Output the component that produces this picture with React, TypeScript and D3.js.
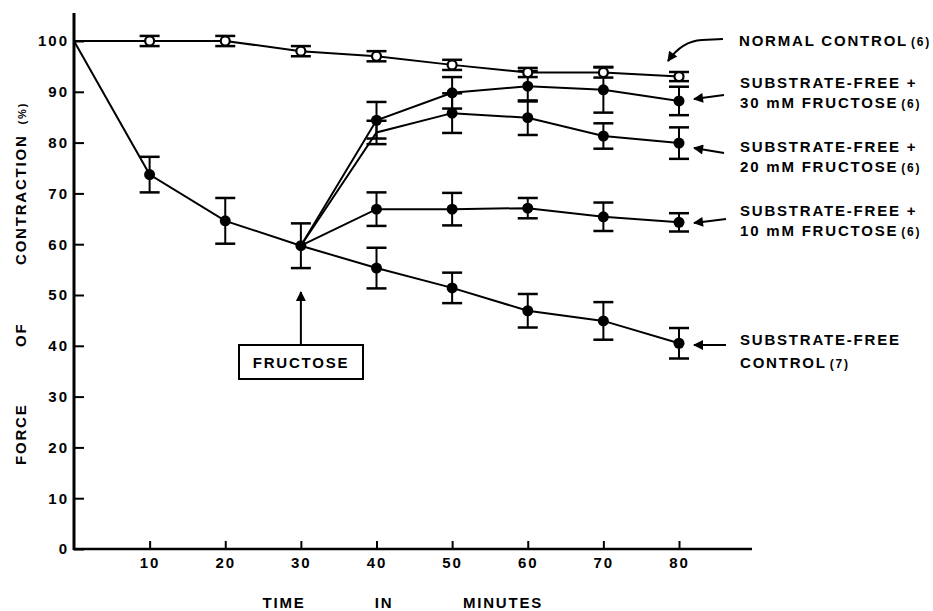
import { useEffect, useRef } from "react";
import * as d3 from "d3";

// time points (minutes)
const times = [0, 10, 20, 30, 40, 50, 60, 70, 80];
const fructoseTimes = [30, 40, 50, 60, 70, 80];

// series values (% of initial force)
const normal = [100, 100, 100, 98, 97, 95.3, 93.8, 93.8, 93];
const normalErr = [0, 1, 1, 1, 1, 1, 0.9, 1, 0.9];
const control = [100, 73.7, 64.6, 59.7, 55.3, 51.4, 46.9, 44.9, 40.5];
const controlErr = [0, 3.5, 4.5, 4.4, 4, 3, 3.3, 3.7, 3];
const fr10 = [59.7, 66.9, 66.9, 67.1, 65.4, 64.3];
const fr10Err = [0, 3.3, 3.2, 2, 2.8, 1.8];
const fr20 = [59.7, 82, 85.8, 84.9, 81.3, 79.9];
const fr20Err = [0, 2.3, 3.9, 3.4, 2.5, 3.1];
const fr30 = [59.7, 84.4, 89.8, 91.1, 90.4, 88.2];
const fr30Err = [0, 3.6, 3.1, 3, 4.5, 2.8];

const yTicks = [0, 10, 20, 30, 40, 50, 60, 70, 80, 90, 100];
const xTicks = [10, 20, 30, 40, 50, 60, 70, 80];

const W = 933;
const H = 611;
const FONT = "'Liberation Sans', Arial, sans-serif";

const x = d3.scaleLinear().domain([0, 80]).range([74, 679]);
const y = d3.scaleLinear().domain([0, 100]).range([549, 41]);

interface Series {
  t: number[];
  v: number[];
  e: number[];
  open?: boolean;
  hideMarkerAt?: number[];
}

const series: Series[] = [
  { t: times, v: control, e: controlErr },
  { t: fructoseTimes, v: fr10, e: fr10Err },
  { t: fructoseTimes, v: fr20, e: fr20Err, hideMarkerAt: [40] },
  { t: fructoseTimes, v: fr30, e: fr30Err },
  { t: times, v: normal, e: normalErr, open: true },
];

// right-hand labels: arrow tail/tip and text lines
const labels = [
  { lines: ["SUBSTRATE-FREE +", "30 mM  FRUCTOSE"], n: "(6)", ty: 82, x1: 724, y1: 95, x2: 694, y2: 99 },
  { lines: ["SUBSTRATE-FREE +", "20 mM  FRUCTOSE"], n: "(6)", ty: 146, x1: 724, y1: 153, x2: 694, y2: 148 },
  { lines: ["SUBSTRATE-FREE +", "10 mM  FRUCTOSE"], n: "(6)", ty: 210, x1: 726, y1: 219, x2: 694, y2: 223 },
  { lines: ["SUBSTRATE-FREE", "CONTROL"], n: "(7)", ty: 339, x1: 726, y1: 345, x2: 694, y2: 345 },
];

export default function App() {
  const xAxisRef = useRef<SVGGElement>(null);
  const yAxisRef = useRef<SVGGElement>(null);

  useEffect(() => {
    const yAxis = d3.axisLeft(y).tickValues(yTicks).tickSize(-10).tickPadding(5).tickFormat(d => String(d));
    const gy = d3.select(yAxisRef.current!).call(yAxis);
    gy.select(".domain").remove();
    gy.selectAll(".tick line").attr("stroke", "#000").attr("stroke-width", 2);
    gy.selectAll(".tick text")
      .attr("fill", "#000")
      .style("font-family", FONT)
      .style("font-weight", "bold")
      .style("font-size", "15px")
      .style("letter-spacing", "2px");

    const xAxis = d3.axisBottom(x).tickValues(xTicks).tickSize(-8).tickPadding(8).tickFormat(d => String(d));
    const gx = d3.select(xAxisRef.current!).call(xAxis);
    gx.select(".domain").remove();
    gx.selectAll(".tick line").attr("stroke", "#000").attr("stroke-width", 2);
    gx.selectAll(".tick text")
      .attr("fill", "#000")
      .style("font-family", FONT)
      .style("font-weight", "bold")
      .style("font-size", "15px")
      .style("letter-spacing", "2px");
  }, []);

  const line = d3
    .line<[number, number]>()
    .x(d => x(d[0]))
    .y(d => y(d[1]));

  const textStyle = {
    fontFamily: FONT,
    fontWeight: "bold" as const,
    fontSize: 15,
    letterSpacing: 1.8,
  };

  return (
    <svg
      width={W}
      height={H}
      style={{ position: "absolute", left: 0, top: 0, background: "#fff" }}
    >
      <defs>
        <marker id="ah" viewBox="0 0 10 10" refX="9" refY="5" markerWidth="13" markerHeight="10" markerUnits="userSpaceOnUse" orient="auto">
          <path d="M0,0 L10,5 L0,10 Z" fill="#000" />
        </marker>
      </defs>

      {/* axes */}
      <line x1={x(0)} x2={x(0)} y1={y(0) + 1} y2={13} stroke="#000" strokeWidth={3} />
      <line x1={x(0) - 1} x2={752} y1={y(0)} y2={y(0)} stroke="#000" strokeWidth={2.5} />
      <g ref={yAxisRef} transform={`translate(${x(0)},0)`} />
      <g ref={xAxisRef} transform={`translate(0,${y(0)})`} />

      {/* series lines */}
      {series.map((s, i) => (
        <path
          key={"l" + i}
          d={line(s.t.map((t, j) => [t, s.v[j]]))!}
          fill="none"
          stroke="#000"
          strokeWidth={2}
        />
      ))}

      {/* error bars and markers */}
      {series.map((s, i) => (
        <g key={"m" + i}>
          {s.t.map((t, j) => {
            if (t === 0 || (t === 30 && !s.open && s.t[0] === 30)) return null;
            const cx = x(t);
            const top = y(s.v[j] + s.e[j]);
            const bot = y(s.v[j] - s.e[j]);
            const hide = s.hideMarkerAt?.includes(t);
            return (
              <g key={j}>
                <line x1={cx} x2={cx} y1={top} y2={bot} stroke="#000" strokeWidth={2} />
                <line x1={cx - 10} x2={cx + 10} y1={top} y2={top} stroke="#000" strokeWidth={2.5} />
                <line x1={cx - 10} x2={cx + 10} y1={bot} y2={bot} stroke="#000" strokeWidth={2.5} />
                {hide ? null : s.open ? (
                  <circle cx={cx} cy={y(s.v[j])} r={4.5} fill="#fff" stroke="#000" strokeWidth={2.2} />
                ) : (
                  <circle cx={cx} cy={y(s.v[j])} r={5.5} fill="#000" />
                )}
              </g>
            );
          })}
        </g>
      ))}

      {/* fructose annotation */}
      <line x1={x(30)} x2={x(30)} y1={345} y2={292} stroke="#000" strokeWidth={2} markerEnd="url(#ah)" />
      <rect x={239} y={345} width={124} height={34} fill="#fff" stroke="#000" strokeWidth={2} />
      <text x={301} y={368} textAnchor="middle" style={textStyle}>FRUCTOSE</text>

      {/* normal control label */}
      <path d="M723,39 L702,40 Q682,41 668,61" fill="none" stroke="#000" strokeWidth={2.2} markerEnd="url(#ah)" />
      <text x={739} y={46} style={textStyle}>
        NORMAL CONTROL<tspan fontSize={12} dx={3}>(6)</tspan>
      </text>

      {labels.map((l, i) => (
        <g key={"lab" + i}>
          <line x1={l.x1} y1={l.y1} x2={l.x2} y2={l.y2} stroke="#000" strokeWidth={2} markerEnd="url(#ah)" />
          <text x={740} y={l.ty + 6} style={textStyle}>{l.lines[0]}</text>
          <text x={740} y={l.ty + 6 + (i === 3 ? 23 : 20)} style={textStyle}>
            {l.lines[1]}
            <tspan fontSize={12} dx={3}>{l.n}</tspan>
          </text>
        </g>
      ))}

      {/* axis titles */}
      <text x={284} y={608} textAnchor="middle" style={textStyle}>TIME</text>
      <text x={384} y={608} textAnchor="middle" style={textStyle}>IN</text>
      <text x={503} y={608} textAnchor="middle" style={textStyle}>MINUTES</text>

      <text transform="translate(26,265) rotate(-90)" style={textStyle}>
        CONTRACTION<tspan fontSize={11} dx={10}>(%)</tspan>
      </text>
      <text transform="translate(26,347) rotate(-90)" style={textStyle}>OF</text>
      <text transform="translate(26,465) rotate(-90)" style={textStyle}>FORCE</text>
    </svg>
  );
}
